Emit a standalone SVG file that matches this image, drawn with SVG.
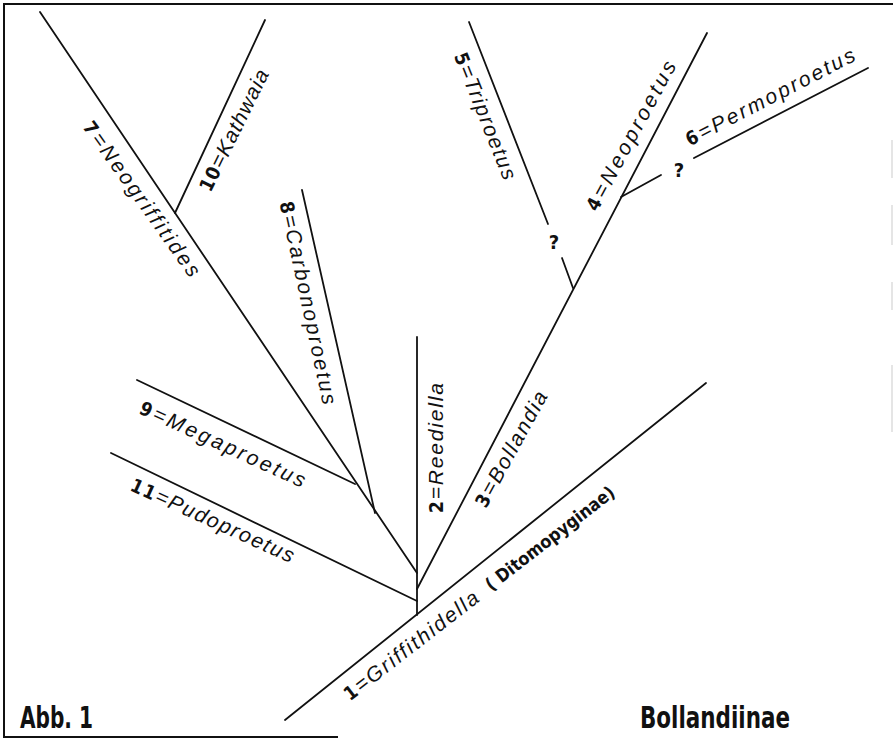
<svg xmlns="http://www.w3.org/2000/svg" width="893" height="740" viewBox="0 0 893 740">
<style>
.frame{stroke:#111;stroke-width:2;fill:none}
.faint{stroke:#ddd;stroke-width:1.5;fill:none}
.br{stroke:#111;stroke-width:1.8;fill:none;stroke-linecap:round}
.lbl{font-family:"Liberation Sans",Arial,sans-serif;font-style:italic;font-size:21px;fill:#111}
.num{font-family:"DejaVu Sans Condensed","DejaVu Sans",sans-serif;font-stretch:condensed;font-style:normal;font-weight:bold;font-size:19px}
.q{font-family:"DejaVu Sans Condensed","DejaVu Sans",sans-serif;font-stretch:condensed;font-weight:bold;font-size:20px;fill:#111;text-anchor:middle}
.title{font-family:"DejaVu Sans Condensed","DejaVu Sans",sans-serif;font-stretch:condensed;font-weight:bold;font-size:31px;fill:#111}
.sub{font-family:"DejaVu Sans Condensed","DejaVu Sans",sans-serif;font-stretch:condensed;font-weight:bold;font-size:18px;fill:#111}
</style>
<rect width="893" height="740" fill="#fff"/>
<g id="frame">
<polyline class="frame" points="338,737 4,737 4,4 893,4"/>
<line class="faint" x1="892" y1="140" x2="892" y2="178"/>
<line class="faint" x1="892" y1="205" x2="892" y2="245"/>
<line class="faint" x1="892" y1="282" x2="892" y2="310"/>
<line class="faint" x1="892" y1="365" x2="892" y2="432"/>
</g>
<g id="connectors">
<line class="br" x1="40" y1="12" x2="417" y2="573"/>
<line class="br" x1="175" y1="213" x2="265" y2="20"/>
<line class="br" x1="302" y1="190" x2="375" y2="513"/>
<line class="br" x1="137" y1="380" x2="355" y2="484"/>
<line class="br" x1="111" y1="453" x2="417" y2="601"/>
<line class="br" x1="417" y1="337" x2="417" y2="615"/>
<line class="br" x1="417" y1="589" x2="707" y2="33"/>
<line class="br" x1="469" y1="22" x2="548" y2="224"/>
<line class="br" x1="562" y1="258" x2="573" y2="288"/>
<line class="br" x1="621" y1="197" x2="661" y2="175"/>
<line class="br" x1="694" y1="158" x2="868" y2="68"/>
<line class="br" x1="285" y1="720" x2="706" y2="383"/>
</g>
<g id="n7"><text class="lbl" transform="translate(82,127) rotate(54.5)" textLength="186" lengthAdjust="spacing"><tspan class="num">7</tspan>=Neogriffitides</text></g>
<g id="n10"><text class="lbl" transform="translate(210.5,193) rotate(-63.7)" textLength="133" lengthAdjust="spacing"><tspan class="num">10</tspan>=Kathwaia</text></g>
<g id="n8"><text class="lbl" transform="translate(279.6,203) rotate(77.9)" textLength="207" lengthAdjust="spacing"><tspan class="num">8</tspan>=Carbonoproetus</text></g>
<g id="n9"><text class="lbl" transform="translate(138,413) rotate(24.6)" textLength="180" lengthAdjust="spacing"><tspan class="num">9</tspan>=Megaproetus</text></g>
<g id="n11"><text class="lbl" transform="translate(129,490) rotate(24.4)" textLength="177" lengthAdjust="spacing"><tspan class="num">11</tspan>=Pudoproetus</text></g>
<g id="n2"><text class="lbl" transform="translate(443,513) rotate(-90)" textLength="130" lengthAdjust="spacing"><tspan class="num">2</tspan>=Reediella</text></g>
<g id="n3"><text class="lbl" transform="translate(486,509) rotate(-61.2)" textLength="129" lengthAdjust="spacing"><tspan class="num">3</tspan>=Bollandia</text></g>
<g id="n5"><text class="lbl" transform="translate(453.7,55.8) rotate(68.2)" textLength="135" lengthAdjust="spacing"><tspan class="num">5</tspan>=Triproetus</text></g>
<g id="n4"><text class="lbl" transform="translate(597,212.6) rotate(-61.5)" textLength="167" lengthAdjust="spacing"><tspan class="num">4</tspan>=Neoproetus</text></g>
<g id="n6"><text class="lbl" transform="translate(689.8,146.5) rotate(-27.4)" textLength="188" lengthAdjust="spacing"><tspan class="num">6</tspan>=Permoproetus</text></g>
<g id="n1">
<text class="lbl" transform="translate(350,701.6) rotate(-37.7)" textLength="165" lengthAdjust="spacing"><tspan class="num">1</tspan>=Griffithidella</text>
<text class="sub" transform="translate(491.3,591.5) rotate(-37.7)" textLength="158" lengthAdjust="spacingAndGlyphs">( Ditomopyginae)</text>
</g>
<g id="q1"><text class="q" x="554" y="249">?</text></g>
<g id="q2"><text class="q" x="679" y="177">?</text></g>
<g id="title"><text class="title" x="20" y="728" textLength="73" lengthAdjust="spacingAndGlyphs">Abb. 1</text></g>
<g id="family"><text class="title" x="640" y="728" textLength="150" lengthAdjust="spacingAndGlyphs">Bollandiinae</text></g>
</svg>
